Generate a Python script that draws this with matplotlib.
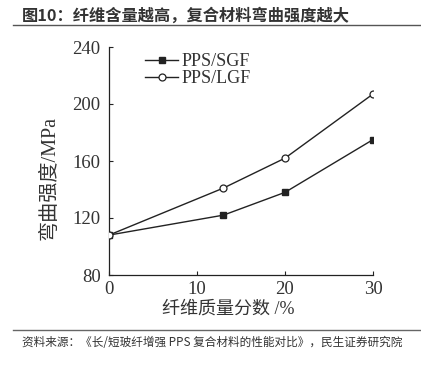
import matplotlib
matplotlib.use("Agg")
import matplotlib.pyplot as plt
from matplotlib.lines import Line2D

x_vals = [0, 13, 20, 30]
sgf = [108, 122, 138, 175]
lgf = [108, 141, 162, 207]
series_names = ["PPS/SGF", "PPS/LGF"]
xticks = [0, 10, 20, 30]
yticks = [80, 120, 160, 200, 240]
title = "图10：纤维含量越高，复合材料弯曲强度越大"
source = "资料来源：《长/短玻纤增强 PPS 复合材料的性能对比》，民生证券研究院"
xlabel = "纤维质量分数 /%"
ylabel = "弯曲强度/MPa"

cjk = ["Noto Sans CJK SC", "DejaVu Sans"]
serif = ["Liberation Serif", "DejaVu Serif"]
mixed = ["Liberation Serif", "Noto Sans CJK SC"]
ink = "#222222"

W, H = 421, 365
fig = plt.figure(figsize=(W/100, H/100), dpi=100)
ax = fig.add_axes([109/W, 1-275/H, (373-109)/W, (275-47)/H])

ax.plot(x_vals, sgf, color=ink, lw=1.0, marker="s", ms=4.5, mfc=ink, mec=ink, label=series_names[0], zorder=3)
ax.plot(x_vals, lgf, color=ink, lw=1.0, marker="o", ms=5, mfc="white", mec=ink, mew=0.9, label=series_names[1], zorder=4)

ax.set_xlim(0, 30)
ax.set_ylim(80, 240)
ax.set_xticks(xticks)
ax.set_yticks(yticks)
ax.tick_params(direction="in", length=3, width=0.8, colors=ink, labelsize=13.5)
ax.tick_params(axis="x", pad=4)
ax.tick_params(axis="y", pad=6)
for lab in ax.get_xticklabels() + ax.get_yticklabels():
    lab.set_family(serif)
    lab.set_color("#333333")
for s in ["top", "right"]:
    ax.spines[s].set_visible(False)
for s in ["left", "bottom"]:
    ax.spines[s].set_color(ink)
    ax.spines[s].set_linewidth(0.9)

fig.text(228/W, 1-309/H, xlabel, family=mixed, fontsize=13, color="#333333",
         ha="center", va="center")
fig.text(50/W, 1-178/H, ylabel, family=mixed, fontsize=14.5, color="#333333",
         ha="center", va="center", rotation=90)

leg = ax.legend(loc="upper left", bbox_to_anchor=(0.138, 0.974), frameon=False,
                prop={"family": serif, "size": 13}, handlelength=1.8,
                handletextpad=0.2, labelspacing=0.0, borderaxespad=0, borderpad=0)
for t in leg.get_texts():
    t.set_color("#333333")

fig.text(22/W, 1-15/H, title, family=cjk, fontsize=11.7, fontweight="bold",
         color="#333333", ha="left", va="center")
fig.add_artist(Line2D([13/W, 1.0], [1-25/H, 1-25/H], color="#555555", lw=1.0))
fig.add_artist(Line2D([13/W, 1.0], [1-330/H, 1-330/H], color="#666666", lw=1.0))
fig.text(22/W, 1-342/H, source, family=cjk, fontsize=8.4, color="#333333",
         ha="left", va="center")

fig.savefig("out.png", dpi=100)
